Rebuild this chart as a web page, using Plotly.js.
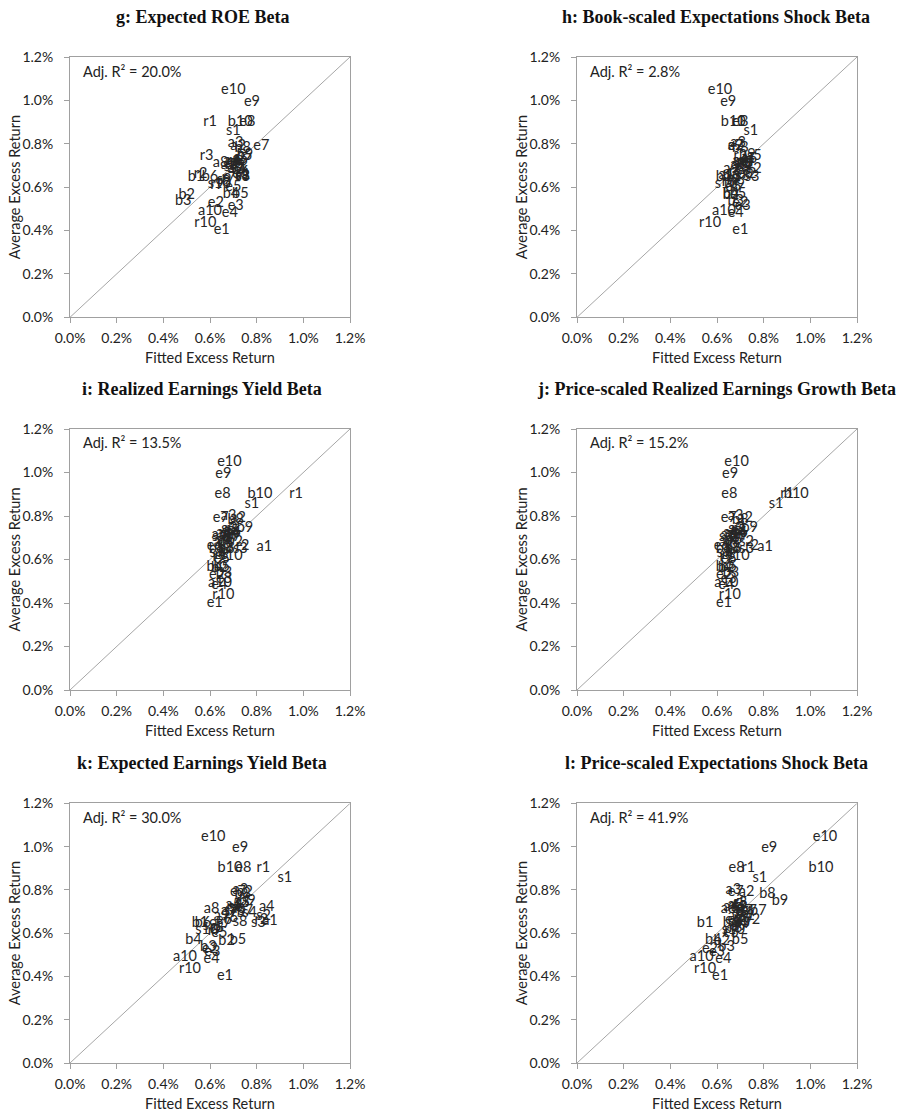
<!DOCTYPE html>
<html><head><meta charset="utf-8">
<script src="https://cdn.plot.ly/plotly-3.0.1.min.js"></script>
<style>html,body{margin:0;padding:0;background:#fff}</style>
</head><body>
<div id="chart" style="width:907px;height:1113px"></div>
<script>
const labels = ["a1","a2","a3","a4","a5","a6","a7","a8","a9","a10",
  "b1","b2","b3","b4","b5","b6","b7","b8","b9","b10",
  "e1","e2","e3","e4","e5","e6","e7","e8","e9","e10",
  "r1","r2","r3","r4","r5","r6","r7","r8","r9","r10",
  "s1","s2","s3","s4","s5","s6","s7","s8","s9","s10"];

// Average excess return (%), shared by all panels
const avgRet = [0.655,0.79,0.80,0.72,0.73,0.71,0.70,0.71,0.68,0.49,
  0.645,0.56,0.535,0.565,0.565,0.645,0.70,0.78,0.745,0.90,
  0.40,0.525,0.51,0.48,0.60,0.66,0.79,0.90,0.99,1.045,
  0.90,0.66,0.74,0.72,0.69,0.67,0.64,0.62,0.61,0.435,
  0.855,0.68,0.645,0.69,0.74,0.72,0.70,0.65,0.63,0.615];

// Fitted excess return (%) per panel
const fitG = [0.74,0.72,0.71,0.69,0.73,0.70,0.68,0.645,0.71,0.60,
  0.54,0.50,0.485,0.69,0.73,0.60,0.72,0.74,0.75,0.73,
  0.65,0.625,0.71,0.685,0.70,0.73,0.82,0.76,0.78,0.70,
  0.60,0.56,0.585,0.70,0.72,0.74,0.68,0.66,0.63,0.58,
  0.70,0.72,0.74,0.69,0.75,0.73,0.70,0.74,0.66,0.64];
const fitH = [0.64,0.68,0.69,0.70,0.74,0.71,0.69,0.72,0.66,0.63,
  0.63,0.66,0.68,0.66,0.69,0.66,0.72,0.70,0.73,0.67,
  0.70,0.70,0.71,0.68,0.67,0.72,0.68,0.70,0.648,0.613,
  0.69,0.74,0.70,0.73,0.71,0.68,0.67,0.65,0.69,0.57,
  0.745,0.76,0.75,0.72,0.76,0.70,0.73,0.71,0.67,0.64];
const fitI = [0.833,0.72,0.68,0.66,0.69,0.64,0.70,0.67,0.65,0.643,
  0.63,0.64,0.66,0.62,0.65,0.67,0.69,0.71,0.75,0.814,
  0.62,0.63,0.66,0.64,0.65,0.62,0.646,0.654,0.657,0.683,
  0.969,0.74,0.69,0.70,0.68,0.66,0.67,0.65,0.64,0.657,
  0.779,0.71,0.73,0.66,0.68,0.70,0.64,0.67,0.63,0.69];
const fitJ = [0.806,0.72,0.68,0.66,0.69,0.65,0.70,0.67,0.64,0.64,
  0.63,0.64,0.66,0.63,0.65,0.67,0.69,0.70,0.74,0.94,
  0.63,0.63,0.65,0.64,0.65,0.62,0.65,0.653,0.656,0.684,
  0.90,0.75,0.69,0.70,0.68,0.66,0.67,0.65,0.64,0.655,
  0.853,0.727,0.727,0.66,0.68,0.70,0.64,0.67,0.63,0.69];
const fitK = [0.857,0.75,0.73,0.843,0.70,0.72,0.68,0.607,0.65,0.493,
  0.557,0.671,0.593,0.529,0.72,0.57,0.75,0.74,0.76,0.686,
  0.664,0.60,0.61,0.607,0.64,0.66,0.72,0.743,0.729,0.614,
  0.829,0.82,0.74,0.70,0.72,0.69,0.66,0.63,0.62,0.514,
  0.921,0.83,0.807,0.77,0.74,0.71,0.69,0.729,0.60,0.586];
const fitL = [0.70,0.727,0.67,0.66,0.68,0.70,0.72,0.65,0.68,0.534,
  0.549,0.62,0.641,0.584,0.699,0.66,0.777,0.816,0.87,1.046,
  0.613,0.57,0.60,0.627,0.66,0.67,0.68,0.684,0.824,1.063,
  0.734,0.756,0.70,0.69,0.71,0.70,0.72,0.68,0.66,0.549,
  0.784,0.73,0.71,0.72,0.70,0.69,0.74,0.68,0.70,0.67];

const panelTitles = ["g: Expected ROE Beta","h: Book-scaled Expectations Shock Beta",
  "i: Realized Earnings Yield Beta","j: Price-scaled Realized Earnings Growth Beta",
  "k: Expected Earnings Yield Beta","l: Price-scaled Expectations Shock Beta"];
const adjR2 = ["20.0%","2.8%","13.5%","15.2%","30.0%","41.9%"];
const fits = [fitG, fitH, fitI, fitJ, fitK, fitL];
const diag = [0, 1.2];
const tickVals = [0,0.2,0.4,0.6,0.8,1.0,1.2];

const W = 907, H = 1113;
const colX = [[70,350],[577,857]];
const titleX = [202, 716];
const rowY = [[57,317.3],[429,690],[803.4,1063]];
const sans = "Lato, 'Liberation Sans', sans-serif";

const traces = [], layout = {
  width: W, height: H, margin:{l:0,r:0,t:0,b:0},
  paper_bgcolor:'#fff', plot_bgcolor:'#fff', showlegend:false,
  annotations: [], font:{family:sans, size:14, color:'#222'}
};

for (let p = 0; p < 6; p++) {
  const c = p % 2, r = Math.floor(p / 2);
  const xs = p === 0 ? 'x' : 'x' + (p+1), ys = p === 0 ? 'y' : 'y' + (p+1);
  const xk = p === 0 ? 'xaxis' : 'xaxis' + (p+1), yk = p === 0 ? 'yaxis' : 'yaxis' + (p+1);
  const [x0, x1] = colX[c], [y0, y1] = rowY[r];
  const axBase = {range:[0,1.2], tickvals:tickVals, ticktext:tickVals.map(v=>v.toFixed(1)+'%'),
    showgrid:false, zeroline:false, showline:true, linecolor:'#a0a0a0', linewidth:1,
    mirror:true, ticks:'outside', ticklen:5, tickcolor:'#a0a0a0',
    tickfont:{family:sans, size:14, color:'#222'}, fixedrange:true};
  layout[xk] = Object.assign({}, axBase, {domain:[x0/W, x1/W], anchor: ys, ticklabelstandoff:3});
  layout[yk] = Object.assign({}, axBase, {domain:[1-y1/H, 1-y0/H], anchor: xs, ticklabelstandoff:8});

  traces.push({x: diag, y: diag, xaxis: xs, yaxis: ys, mode:'lines',
    line:{color:'#a6a6a6', width:1}, hoverinfo:'skip'});
  traces.push({x: fits[p], y: avgRet, text: labels, xaxis: xs, yaxis: ys, mode:'text',
    textposition:'middle center', textfont:{family:sans, size:14.5, color:'#262626'},
    cliponaxis:false});

  layout.annotations.push({text: panelTitles[p], xref:'paper', yref:'paper',
    x: titleX[c]/W, y: 1-(y0-40)/H, xanchor:'center', yanchor:'middle', showarrow:false,
    font:{family:"'Liberation Serif', 'Times New Roman', serif", size:18, color:'#111', weight:'bold'}});
  layout.annotations.push({text: 'Adj. R² = ' + adjR2[p], xref:'paper', yref:'paper',
    x: (x0+11)/W, y: 1-(y0+14)/H, xanchor:'left', yanchor:'middle', showarrow:false,
    font:{family:sans, size:14.5, color:'#222'}});
  layout.annotations.push({text: 'Fitted Excess Return', xref:'paper', yref:'paper',
    x: ((x0+x1)/2)/W, y: 1-(y1+40)/H, xanchor:'center', yanchor:'middle', showarrow:false,
    font:{family:sans, size:14.5, color:'#222'}});
  layout.annotations.push({text: 'Average Excess Return', xref:'paper', yref:'paper',
    x: (x0-56)/W, y: 1-((y0+y1)/2)/H, xanchor:'center', yanchor:'middle', showarrow:false,
    textangle:-90, font:{family:sans, size:14.5, color:'#222'}});
}

Plotly.newPlot('chart', traces, layout, {displayModeBar:false, staticPlot:true});
</script>
</body></html>
